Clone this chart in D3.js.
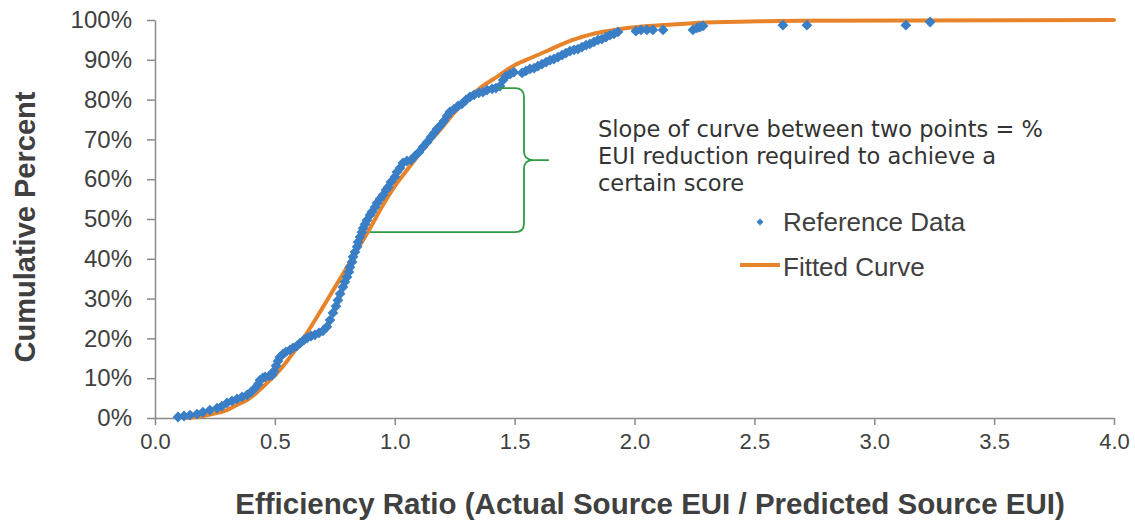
<!DOCTYPE html>
<html>
<head>
<meta charset="utf-8">
<script src="https://cdn.jsdelivr.net/npm/d3@7"></script>
<style>
  html, body { margin: 0; padding: 0; background: #fff; }
  svg { display: block; }
</style>
</head>
<body>
<svg id="chart" width="1135" height="522"></svg>
<script>
// ---------- DATA ----------
const xTicks = [0, 0.5, 1.0, 1.5, 2.0, 2.5, 3.0, 3.5, 4.0];
const yTicks = [0, 10, 20, 30, 40, 50, 60, 70, 80, 90, 100];

// Reference data: efficiency ratio (x) and cumulative percent (y)
const refX = [0.096,0.121,0.146,0.175,0.200,0.229,0.259,0.279,0.300,0.321,0.342,0.363,0.384,0.400,0.417,0.430,0.438,0.450,0.459,0.476,0.488,0.496,0.505,0.513,0.521,0.534,0.546,0.563,0.576,0.592,0.605,0.621,0.634,0.651,0.667,0.684,0.701,0.717,0.730,0.742,0.755,0.763,0.772,0.784,0.792,0.801,0.809,0.813,0.822,0.826,0.834,0.843,0.847,0.855,0.863,0.868,0.876,0.884,0.897,0.905,0.918,0.926,0.938,0.951,0.964,0.972,0.984,1.001,1.009,1.022,1.034,1.051,1.068,1.084,1.101,1.118,1.135,1.151,1.164,1.176,1.189,1.205,1.218,1.230,1.247,1.264,1.280,1.297,1.314,1.331,1.351,1.368,1.385,1.406,1.422,1.439,1.452,1.464,1.481,1.497,1.531,1.547,1.564,1.581,1.597,1.614,1.631,1.648,1.664,1.681,1.698,1.714,1.731,1.748,1.764,1.781,1.798,1.814,1.831,1.848,1.864,1.881,1.898,1.914,1.931,2.006,2.027,2.052,2.077,2.119,2.244,2.261,2.273,2.286,2.619,2.719,3.132,3.233];
const refY = [0.25,0.5,0.75,1.0,1.5,2.0,2.5,3.0,3.8,4.3,4.8,5.3,5.8,6.5,7.5,8.5,9.5,10.1,10.3,10.6,10.8,11.8,13.1,14.3,15.3,16.1,16.6,17.1,17.6,18.1,18.8,19.6,20.1,20.6,20.9,21.4,21.9,22.9,24.6,26.4,28.1,29.6,31.2,32.9,34.2,35.4,36.7,37.9,39.2,40.5,41.7,43.0,44.2,45.5,46.7,47.7,48.7,49.7,51.0,51.8,53.0,54.0,55.0,56.0,57.3,58.0,59.3,60.6,61.8,62.8,64.1,64.6,64.8,65.8,66.8,68.1,69.3,70.6,71.6,72.6,73.4,74.6,75.9,76.9,77.6,78.4,78.9,79.9,80.7,81.2,81.7,81.9,82.4,82.7,82.9,83.4,84.9,85.9,86.4,86.9,86.7,87.2,87.7,87.9,88.4,88.9,89.4,89.9,90.2,90.7,91.2,91.7,92.2,92.5,92.7,93.2,93.7,94.0,94.5,95.0,95.2,95.7,96.2,96.5,97.0,97.2,97.5,97.5,97.5,97.5,97.5,98.0,98.2,98.5,98.7,98.7,98.7,99.5,99.7];

// Fitted curve
const fitX = [0.125,0.175,0.238,0.300,0.342,0.384,0.417,0.450,0.480,0.509,0.538,0.563,0.592,0.617,0.647,0.688,0.742,0.784,0.843,0.897,0.951,1.001,1.064,1.126,1.189,1.251,1.314,1.356,1.426,1.493,1.577,1.635,1.689,1.743,1.827,1.885,1.969,2.106,2.244,2.386,2.523,2.690,3.162,4.0];
const fitY = [0,0.25,1.0,2.0,3.3,4.5,6.0,7.8,9.5,11.3,13.3,15.3,17.6,19.8,22.6,26.6,32.0,36.2,42.2,47.7,53.5,58.3,63.3,68.1,72.4,76.9,80.7,82.9,85.7,88.4,90.7,92.2,93.7,95.0,96.5,97.2,98.0,98.7,99.2,99.5,99.7,99.8,99.9,100];

// Annotation bracket (data coordinates)
const bracketBottom = { x: 0.897, y: 46.7 };
const bracketTop = { x: 1.43, y: 82.9 };
const bracketSpineX = 1.539;
const bracketTipX = 1.643;
const bracketTipY = 64.8;

const annotationLines = ["Slope of curve between two points = %", "EUI reduction required to achieve a", "certain score"];
const legendItems = ["Reference Data", "Fitted Curve"];
const xTitle = "Efficiency Ratio (Actual Source EUI / Predicted Source EUI)";
const yTitle = "Cumulative Percent";

// ---------- CHART ----------
const svg = d3.select("#chart");
const blue = "#3a7ec6", orange = "#e6832b", green = "#2f9c44", axisGrey = "#8a8a8a", textCol = "#404040";

const x = d3.scaleLinear().domain([0, 4]).range([155, 1114]);
const y = d3.scaleLinear().domain([0, 100]).range([418, 20]);

// y axis
const yAxis = svg.append("g").attr("transform", `translate(${x(0)},0)`)
  .call(d3.axisLeft(y).tickValues(yTicks).tickFormat(d => d + "%").tickSize(8).tickSizeOuter(0).tickPadding(15));
// x axis
const xAxis = svg.append("g").attr("transform", `translate(0,${y(0)})`)
  .call(d3.axisBottom(x).tickValues(xTicks).tickFormat(d3.format(".1f")).tickSize(7).tickSizeOuter(0).tickPadding(8));

[xAxis, yAxis].forEach(g => {
  g.select(".domain").attr("stroke", axisGrey).attr("stroke-width", 1.5);
  g.selectAll(".tick line").attr("stroke", axisGrey).attr("stroke-width", 1.5);
  g.selectAll(".tick text").attr("fill", textCol)
    .style("font-family", "'Liberation Sans', Arial, sans-serif").style("font-size", "22px");
});
yAxis.selectAll(".tick text").style("font-size", "24px");

// axis titles
svg.append("text")
  .attr("transform", `translate(35,${(y(0) + y(100)) / 2 + 8}) rotate(-90)`)
  .attr("text-anchor", "middle")
  .attr("fill", textCol)
  .style("font-family", "'Liberation Sans', Arial, sans-serif")
  .style("font-size", "29px").style("font-weight", "bold")
  .text(yTitle);
svg.append("text")
  .attr("x", 650).attr("y", 514)
  .attr("text-anchor", "middle")
  .attr("fill", textCol)
  .style("font-family", "'Liberation Sans', Arial, sans-serif")
  .style("font-size", "29.5px").style("font-weight", "bold")
  .text(xTitle);

// fitted curve
const fitData = fitX.map((v, i) => [v, fitY[i]]);
svg.append("path")
  .datum(fitData)
  .attr("fill", "none")
  .attr("stroke", orange)
  .attr("stroke-width", 4)
  .attr("stroke-linejoin", "round")
  .attr("stroke-linecap", "round")
  .attr("d", d3.line().x(d => x(d[0])).y(d => y(d[1])).curve(d3.curveMonotoneX));

// reference points
const refData = refX.map((v, i) => [v, refY[i]]);
const diamond = d3.symbol().type(d3.symbolDiamond2).size(74);
svg.append("g").selectAll("path")
  .data(refData).join("path")
  .attr("d", diamond)
  .attr("transform", d => `translate(${x(d[0])},${y(d[1])})`)
  .attr("fill", blue);

// bracket
const bx0 = x(bracketBottom.x), by0 = y(bracketBottom.y);
const bx1 = x(bracketTop.x), by1 = y(bracketTop.y);
const sx = x(bracketSpineX), tx = x(bracketTipX), ty = y(bracketTipY);
const r = 9;
const bp = d3.path();
bp.moveTo(bx0, by0);
bp.lineTo(sx - r, by0);
bp.quadraticCurveTo(sx, by0, sx, by0 - r);
bp.lineTo(sx, ty + r);
bp.quadraticCurveTo(sx, ty, sx + r, ty);
bp.lineTo(tx, ty);
bp.moveTo(sx + r, ty);
bp.quadraticCurveTo(sx, ty, sx, ty - r);
bp.lineTo(sx, by1 + r);
bp.quadraticCurveTo(sx, by1, sx - r, by1);
bp.lineTo(bx1, by1);
svg.append("path").attr("d", bp.toString())
  .attr("fill", "none").attr("stroke", green).attr("stroke-width", 1.8);

// annotation text
svg.append("g").selectAll("text")
  .data(annotationLines).join("text")
  .attr("x", 598).attr("y", (d, i) => 137 + i * 27)
  .attr("fill", "#333")
  .style("font-family", "'DejaVu Sans', sans-serif")
  .style("font-size", "22.5px")
  .text(d => d);

// legend
const lg = svg.append("g");
lg.append("path")
  .attr("d", d3.symbol().type(d3.symbolDiamond2).size(32))
  .attr("transform", "translate(760,222)")
  .attr("fill", blue);
lg.append("line").attr("x1", 740).attr("x2", 780).attr("y1", 265).attr("y2", 265)
  .attr("stroke", orange).attr("stroke-width", 4);
lg.selectAll("text").data(legendItems).join("text")
  .attr("x", 783).attr("y", (d, i) => 231 + i * 45)
  .attr("fill", textCol)
  .style("font-family", "'Liberation Sans', Arial, sans-serif")
  .style("font-size", "26px")
  .text(d => d);
</script>
</body>
</html>
